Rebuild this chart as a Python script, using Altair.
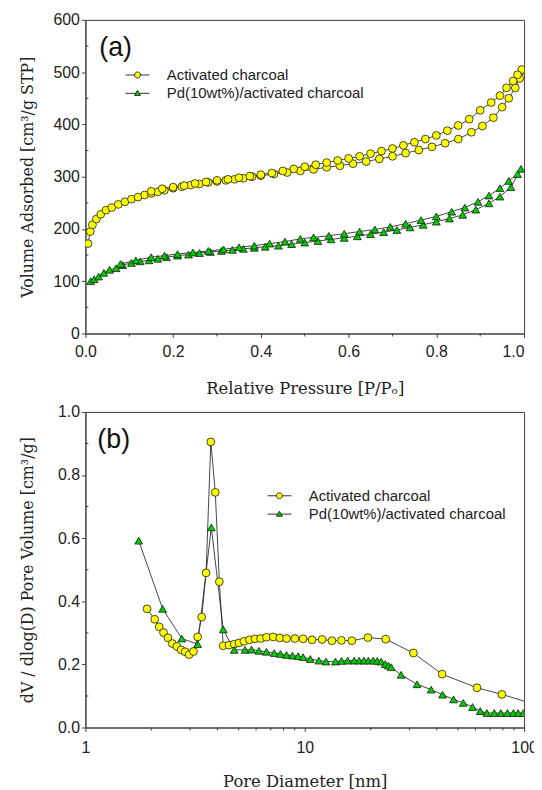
import altair as alt
import pandas as pd

SERIES = ["Activated charcoal", "Pd(10wt%)/activated charcoal"]

# ---------------- (a) N2 isotherm ----------------
ac_ads_p = [0.006, 0.011, 0.016, 0.025, 0.035, 0.047, 0.06, 0.075, 0.09, 0.105, 0.12, 0.135,
            0.15, 0.165, 0.18, 0.2, 0.22, 0.24, 0.26, 0.28, 0.30, 0.32, 0.34, 0.36, 0.38, 0.40,
            0.43, 0.46, 0.49, 0.52, 0.55, 0.58, 0.61, 0.64, 0.67, 0.70, 0.73, 0.76, 0.79, 0.82,
            0.85, 0.88, 0.905, 0.93, 0.95, 0.965, 0.98, 0.99, 0.997]
ac_ads_v = [172, 195, 208, 219, 228, 236, 241, 247, 252, 257, 261, 265,
            268, 271, 274, 278, 281, 284, 286, 289, 291, 293, 295, 297, 300, 302,
            305, 308, 311, 314, 318, 321, 325, 329, 334, 339, 345, 351, 357, 364,
            372, 385, 397, 413, 433, 450, 470, 488, 503]
ac_des_p = [0.995, 0.985, 0.975, 0.96, 0.945, 0.925, 0.90, 0.875, 0.85, 0.825, 0.80, 0.775,
            0.75, 0.725, 0.70, 0.675, 0.65, 0.625, 0.60, 0.575, 0.55, 0.525, 0.50, 0.475,
            0.45, 0.425, 0.40, 0.375, 0.35, 0.325, 0.30, 0.275, 0.25, 0.225, 0.20, 0.175, 0.15]
ac_des_v = [505, 495, 483, 470, 455, 442, 427, 410, 398, 388, 379, 372,
            366, 360, 354, 349, 344, 339, 335, 331, 327, 323, 319, 315,
            311, 307, 304, 301, 298, 295, 293, 290, 287, 283, 280, 277, 272]

pd_ads_p = [0.012, 0.02, 0.03, 0.042, 0.055, 0.07, 0.085, 0.105, 0.125, 0.145, 0.165, 0.185,
            0.21, 0.235, 0.26, 0.285, 0.31, 0.335, 0.36, 0.385, 0.41, 0.44, 0.47, 0.50, 0.53,
            0.56, 0.59, 0.62, 0.65, 0.68, 0.71, 0.74, 0.77, 0.80, 0.83, 0.86, 0.89, 0.92,
            0.945, 0.97, 0.993]
pd_ads_v = [100, 104, 109, 116, 122, 125, 131, 135, 138, 140, 143, 146,
            149, 151, 154, 156, 158, 160, 162, 164, 166, 168, 171, 174, 177,
            180, 183, 186, 190, 194, 198, 203, 208, 214, 220, 227, 237, 249,
            262, 280, 315]
pd_des_p = [0.985, 0.965, 0.945, 0.92, 0.895, 0.865, 0.835, 0.80, 0.765, 0.73, 0.695, 0.66,
            0.625, 0.59, 0.555, 0.52, 0.49, 0.455, 0.42, 0.385, 0.35, 0.315, 0.28, 0.245,
            0.21, 0.18, 0.15, 0.115, 0.08]
pd_des_v = [305, 292, 278, 264, 252, 241, 233, 224, 217, 210, 204, 199,
            195, 191, 187, 184, 181, 176, 172, 168, 165, 161, 158, 155,
            152, 149, 146, 140, 133]

# ---------------- (b) pore size distribution ----------------
ac_d = [1.91, 2.07, 2.17, 2.27, 2.38, 2.49, 2.61, 2.73, 2.85, 2.97, 3.11, 3.25, 3.39, 3.55,
        3.73, 3.91, 4.08, 4.25, 4.51, 4.77, 5.01, 5.28, 5.6, 5.93, 6.29, 6.69, 7.18, 7.69,
        8.26, 9.01, 9.83, 10.8, 12.0, 13.3, 14.7, 16.4, 19.4, 23.4, 31.3, 42.3, 61.0, 79.2, 110.0]
ac_dv = [0.376, 0.343, 0.319, 0.301, 0.284, 0.266, 0.257, 0.246, 0.240, 0.231, 0.241, 0.287,
         0.350, 0.490, 0.905, 0.745, 0.462, 0.259, 0.261, 0.264, 0.268, 0.273, 0.278, 0.281,
         0.282, 0.286, 0.287, 0.284, 0.282, 0.282, 0.281, 0.278, 0.279, 0.275, 0.276, 0.275,
         0.285, 0.280, 0.236, 0.169, 0.126, 0.105, 0.075]
pd_d = [1.75, 2.25, 2.75, 3.25, 3.75, 4.25, 4.77, 5.34, 5.72, 6.18, 6.69, 7.26, 7.75, 8.26,
        8.79, 9.33, 9.83, 10.6, 11.6, 12.5, 13.8, 14.7, 15.7, 16.8, 17.7, 18.6, 19.5, 20.5,
        21.4, 22.3, 23.3, 24.1, 24.8, 27.5, 32.5, 37.7, 42.5, 47.7, 52.8, 58.2, 63.1, 67.7,
        73.1, 78.3, 84.0, 89.4, 93.9, 99.3]
pd_dv = [0.592, 0.376, 0.282, 0.264, 0.634, 0.311, 0.246, 0.246, 0.247, 0.243, 0.240, 0.236,
         0.233, 0.230, 0.228, 0.226, 0.223, 0.217, 0.212, 0.209, 0.209, 0.211, 0.212, 0.212,
         0.212, 0.212, 0.212, 0.212, 0.211, 0.209, 0.201, 0.196, 0.191, 0.167, 0.137, 0.120,
         0.104, 0.089, 0.078, 0.065, 0.052, 0.046, 0.046, 0.046, 0.046, 0.046, 0.046, 0.046]

# ---------------- ticks & labels ----------------
a_x_major = [0.0, 0.2, 0.4, 0.6, 0.8, 1.0]
a_x_minor = [0.1, 0.3, 0.5, 0.7, 0.9]
a_y_major = [0, 100, 200, 300, 400, 500, 600]
a_y_minor = [50, 150, 250, 350, 450, 550]
b_x_major = [1, 10, 100]
b_x_minor = [2, 3, 4, 5, 6, 7, 8, 9, 20, 30, 40, 50, 60, 70, 80, 90]
b_y_major = [0.0, 0.2, 0.4, 0.6, 0.8, 1.0]
b_y_minor = [0.1, 0.3, 0.5, 0.7, 0.9]
panel_labels = ["(a)", "(b)"]

YEL = "#FFFF00"
GRN = "#00CC00"
INK = "#303030"
AXC = "#404040"
FILLS = [YEL, GRN]
SHAPES = ["circle", "triangle-up"]
LEG_SHAPES = [
    "M-2,0L-0.5,0M0.5,0L2,0M-0.5,0A0.5,0.5,0,1,0,0.5,0A0.5,0.5,0,1,0,-0.5,0Z",
    "M-2,0L-0.29,0M0.29,0L2,0M-0.5,0.35L0,-0.5L0.5,0.35Z",
]

W = 442
HA = 316
HB = 318


def build(xs_list, ys_list):
    rows = []
    for k, name in enumerate(SERIES):
        for i, (xv, yv) in enumerate(zip(xs_list[k], ys_list[k])):
            rows.append({"x": xv, "y": yv, "series": name, "idx": i,
                         "fillc": FILLS[k], "shp": SHAPES[k]})
    return pd.DataFrame(rows)


df_a = build([ac_ads_p + ac_des_p, pd_ads_p + pd_des_p],
             [ac_ads_v + ac_des_v, pd_ads_v + pd_des_v])
df_b = build([ac_d, pd_d], [ac_dv, pd_dv])


def panel(df, xscale, yscale, xaxis, yaxis, xminor, yminor, H, leg_x, leg_y, label, lab_x, lab_y):
    base = alt.Chart(df)
    line = base.mark_line(color=INK, strokeWidth=0.9, clip=True).encode(
        x=alt.X("x:Q", scale=xscale, axis=xaxis),
        y=alt.Y("y:Q", scale=yscale, axis=yaxis),
        detail="series:N",
        order="idx:Q",
    )
    pts = base.mark_point(filled=True, stroke="#1a1a1a", strokeWidth=0.8, size=62,
                          opacity=1, clip=True).encode(
        x=alt.X("x:Q", scale=xscale, axis=xaxis),
        y=alt.Y("y:Q", scale=yscale, axis=yaxis),
        fill=alt.Fill("fillc:N", scale=None),
        shape=alt.Shape("shp:N", scale=None),
    )
    leg = alt.Legend(title=None, orient="none", legendX=leg_x, legendY=leg_y,
                     labelFont="Liberation Sans", labelFontSize=15, labelColor="#222222",
                     labelLimit=0,
                     symbolSize=144, symbolStrokeColor=INK, symbolStrokeWidth=0.9,
                     symbolOpacity=1, labelOffset=22, rowPadding=2.5, padding=0)
    legend_layer = base.mark_point(filled=True, opacity=0, clip=True).encode(
        x=alt.X("x:Q", scale=xscale, axis=xaxis),
        y=alt.Y("y:Q", scale=yscale, axis=yaxis),
        fill=alt.Fill("series:N", scale=alt.Scale(domain=SERIES, range=FILLS), legend=leg),
        shape=alt.Shape("series:N", scale=alt.Scale(domain=SERIES, range=LEG_SHAPES), legend=leg),
    )
    mx = alt.Chart(pd.DataFrame({"x": xminor})).mark_rule(color=AXC, strokeWidth=1).encode(
        x=alt.X("x:Q", scale=xscale, axis=xaxis),
        y=alt.value(H), y2=alt.value(H + 3),
    )
    my = alt.Chart(pd.DataFrame({"y": yminor})).mark_rule(color=AXC, strokeWidth=1).encode(
        y=alt.Y("y:Q", scale=yscale, axis=yaxis),
        x=alt.value(0), x2=alt.value(3),
    )
    lab = alt.Chart(pd.DataFrame({"t": [label]})).mark_text(
        align="left", baseline="alphabetic", font="Liberation Sans", fontSize=27,
        color="#111111",
    ).encode(text="t:N", x=alt.value(lab_x), y=alt.value(lab_y))
    return alt.layer(line, pts, legend_layer, mx, my, lab).properties(width=W, height=H)


top = panel(
    df_a,
    alt.Scale(domain=[0, 1], nice=False, zero=False),
    alt.Scale(domain=[0, 600], nice=False),
    alt.Axis(values=a_x_major, format=".1f", title="Relative Pressure [P/Pₒ]",
             tickSize=4, labelPadding=6, titlePadding=21, titleFontSize=16.5, labelFlush=False,
             labelAlign=alt.condition("datum.value >= 1", alt.value("right"), alt.value("center"))),
    alt.Axis(values=a_y_major, format="d", title="Volume Adsorbed [cm³/g STP]",
             tickSize=4, labelPadding=2, titlePadding=18, titleFontSize=16),
    a_x_minor, a_y_minor, HA, 45, 48, panel_labels[0], 14, 36,
)

bottom = panel(
    df_b,
    alt.Scale(type="log", domain=[1, 100], nice=False),
    alt.Scale(domain=[0, 1], nice=False),
    alt.Axis(values=b_x_major, format="~g", title="Pore Diameter [nm]",
             tickSize=4, labelPadding=8, titlePadding=18, titleFontSize=16.5, labelFlush=False),
    alt.Axis(values=b_y_major, format=".1f", title="dV / dlog(D) Pore Volume [cm³/g]",
             tickSize=4, labelPadding=2, titlePadding=22, titleFontSize=16),
    b_x_minor, b_y_minor, HB, 188, 77, panel_labels[1], 12, 36,
)

chart = alt.vconcat(top, bottom, spacing=6).resolve_scale(
    x="independent", y="independent", fill="independent", shape="independent"
).resolve_legend(fill="independent", shape="independent").properties(
    padding={"left": 10, "top": 0, "right": -4, "bottom": 0}
).configure_axis(
    grid=False, domainColor=AXC, tickColor=AXC, domainWidth=1, tickWidth=1,
    labelFont="Liberation Sans", labelFontSize=16, labelColor="#222222",
    titleFont="DejaVu Serif", titleFontWeight="normal", titleColor="#222222",
).configure_view(stroke=AXC, strokeWidth=1)

chart.save("out.html", embed_options={"renderer": "svg", "actions": False})
